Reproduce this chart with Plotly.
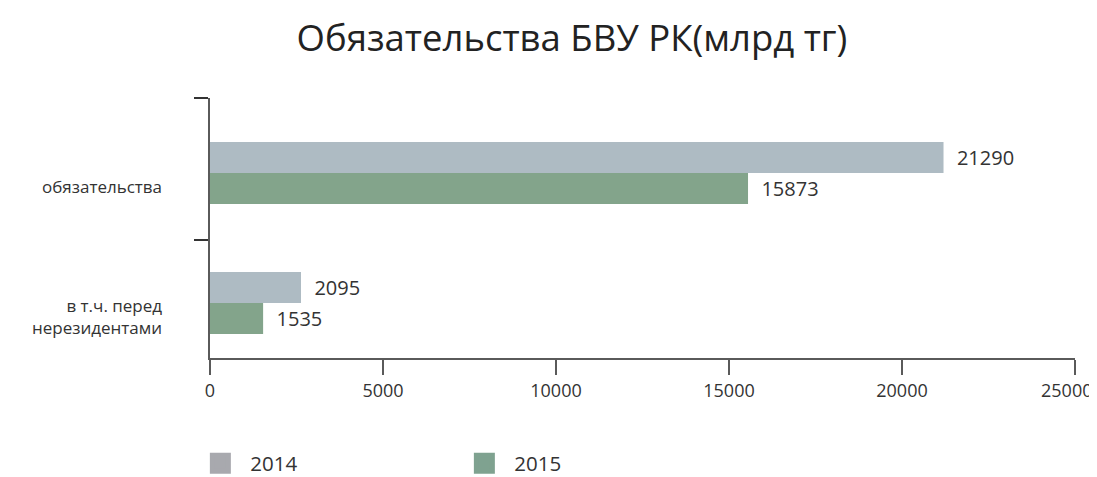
import plotly.graph_objects as go

categories = ["обязательства", "в т.ч. перед<br>нерезидентами"]
series_names = ["2014", "2015"]
# bar lengths as drawn in the picture
values_2014 = [21200, 2630]
values_2015 = [15550, 1535]
# printed value labels
labels_2014 = ["21290", "2095"]
labels_2015 = ["15873", "1535"]
x_ticks = [0, 5000, 10000, 15000, 20000, 25000]
x_tick_text = ["0", "5000", "10000", "15000", "20000", "25000"]

bar_colors = ["#aebbc3", "#83a48b"]
legend_colors = ["#a8a9ae", "#7fa290"]
font_family = "Open Sans"
text_color = "#333333"
tick_font = dict(size=18, color=text_color, family=font_family)

W, H = 1089, 469

positions = list(range(len(categories)))

fig = go.Figure()
for vals, labs, col in [(values_2014, labels_2014, bar_colors[0]),
                        (values_2015, labels_2015, bar_colors[1])]:
    fig.add_trace(go.Bar(
        x=vals, y=positions, orientation="h",
        marker=dict(color=col, line=dict(width=0)),
        text=labs, texttemplate="\u00a0\u00a0%{text}", textposition="outside",
        constraintext="none", cliponaxis=False,
        textfont=dict(size=20, color=text_color, family=font_family),
        showlegend=False, hoverinfo="skip",
    ))

for name, col in zip(series_names, legend_colors):
    fig.add_trace(go.Scatter(
        x=[None], y=[None], mode="markers", name=name,
        marker=dict(symbol="square", size=16, color=col, line=dict(color=col, width=5)),
    ))

for i, cat in enumerate(categories):
    fig.add_annotation(
        x=0, xref="paper", xshift=-46, xanchor="right",
        y=positions[i], yref="y", yshift=-13, yanchor="middle",
        text=cat, showarrow=False, align="right",
        font=dict(size=17, color=text_color, family=font_family),
    )

# last tick label sits slightly inside the right edge, as in the source
tick_labels_shown = x_tick_text[:-1] + [""]
fig.add_annotation(
    x=x_ticks[-1], xref="x", xshift=-9, xanchor="center",
    y=0, yref="paper", yshift=-32, yanchor="middle",
    text=x_tick_text[-1], showarrow=False, font=tick_font,
)

fig.update_layout(
    width=W, height=H,
    margin=dict(l=202, r=22, t=90, b=119, autoexpand=False),
    paper_bgcolor="white", plot_bgcolor="white",
    barmode="group", bargap=0.523, bargroupgap=0,
    title=dict(text="Обязательства БВУ РК(млрд тг)", x=564 / W, xanchor="center",
               y=1 - 30 / H, yanchor="middle", yref="container",
               font=dict(size=36.5, color="#222222", family=font_family)),
    font=dict(family=font_family, color=text_color),
    legend=dict(orientation="h", x=-0.0227, xanchor="left", y=-0.405, yanchor="middle",
                font=dict(size=20.5, color=text_color, family=font_family),
                entrywidth=199, entrywidthmode="pixels", itemwidth=50,
                bgcolor="rgba(0,0,0,0)"),
    xaxis=dict(range=[0, 25000], tickmode="array", tickvals=x_ticks, ticktext=tick_labels_shown,
               showgrid=False, zeroline=False,
               showline=True, linecolor="#5a5a5a", linewidth=2,
               ticks="outside", ticklen=15, tickwidth=2, tickcolor="#5a5a5a",
               tickfont=tick_font, automargin=False),
    yaxis=dict(range=[1.423, -0.577], showgrid=False, zeroline=False,
               showline=True, linecolor="#5a5a5a", linewidth=2,
               tickmode="array", tickvals=[-0.5765, 0.515], ticktext=["", ""],
               ticks="outside", ticklen=14, tickwidth=2, tickcolor="#333333",
               showticklabels=True, automargin=False),
)

fig.write_html("out.html")
